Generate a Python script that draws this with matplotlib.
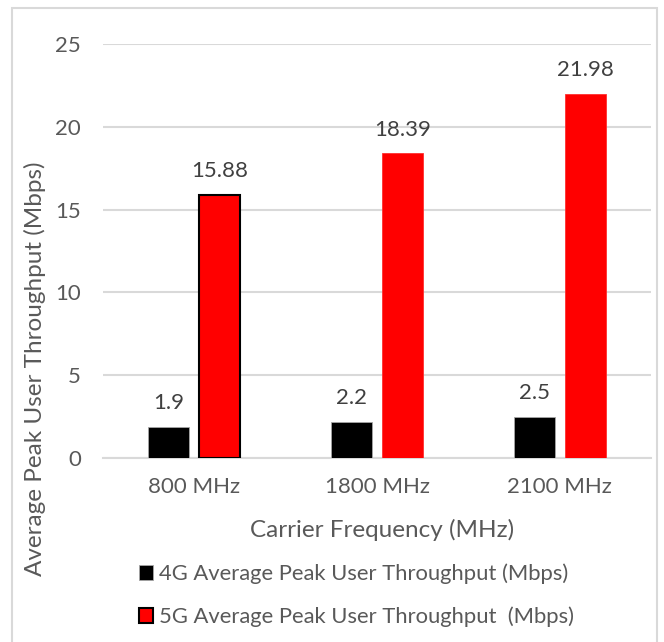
import numpy as np
import matplotlib.pyplot as plt
from matplotlib.patches import Rectangle

# data
categories = ['800 MHz', '1800 MHz', '2100 MHz']
tp_4g = [1.9, 2.2, 2.5]
tp_5g = [15.88, 18.39, 21.98]
label_4g = '4G Average Peak User Throughput (Mbps)'
label_5g = '5G Average Peak User Throughput  (Mbps)'

plt.rcParams['font.family'] = ['Lato', 'DejaVu Sans']
txt = '#595959'

fig = plt.figure(figsize=(6.64, 6.42), dpi=100)
ax = fig.add_axes([103 / 664, 1 - 458 / 642, 548 / 664, 414 / 642])

x = np.arange(len(categories))
w = 0.225
off = 0.14
b4 = ax.bar(x - off, tp_4g, w, color='black', edgecolor='#a6a6a6', linewidth=0.6,
            label=label_4g, zorder=3)
b5 = ax.bar(x + off, tp_5g, w, color='#ff0000', edgecolor='#ff3030', linewidth=0.6,
            label=label_5g, zorder=3)
b5[0].set_edgecolor('black')
b5[0].set_linewidth(1.5)

for bars, vals in [(b4, tp_4g), (b5, tp_5g)]:
    for r, v in zip(bars, vals):
        ax.annotate(f'{v:g}', (r.get_x() + r.get_width() / 2, v),
                    xytext=(0, 10), textcoords='offset points',
                    ha='center', va='bottom', fontsize=16, color='#404040')

ax.set_xlim(-0.5, 2.5)
ax.set_ylim(0, 25)
ax.set_yticks([0, 5, 10, 15, 20, 25])
ax.set_xticks(x)
ax.set_xticklabels(categories)
ax.tick_params(length=0, labelsize=16, labelcolor=txt)
ax.tick_params(axis='y', pad=16)
ax.tick_params(axis='x', pad=14)
ax.grid(axis='y', color='#d9d9d9', linewidth=1.5, zorder=0)
for s in ['top', 'right', 'left']:
    ax.spines[s].set_visible(False)
ax.spines['bottom'].set_color('#d9d9d9')
ax.spines['bottom'].set_linewidth(1.5)

fig.text(382 / 664, 1 - 530 / 642, 'Carrier Frequency (MHz)', ha='center', va='center',
         fontsize=17.5, color=txt)
fig.text(35 / 664, 1 - 369 / 642, 'Average Peak User Throughput (Mbps)', ha='center',
         va='center', rotation=90, fontsize=17.5, color=txt)

ax.legend(loc='upper left', bbox_to_anchor=(130 / 664, 1 - 555 / 642),
          bbox_transform=fig.transFigure, frameon=False, fontsize=15.8,
          labelcolor=txt, handlelength=0.65, handleheight=0.65, handletextpad=0.25,
          labelspacing=1.0, borderaxespad=0)

fig.patches.append(Rectangle((12 / 664, -0.05), 645 / 664, 1.05 - 8 / 642,
                             transform=fig.transFigure, fill=False,
                             edgecolor='#d9d9d9', linewidth=1.5))

fig.savefig('out.png', dpi=100)
